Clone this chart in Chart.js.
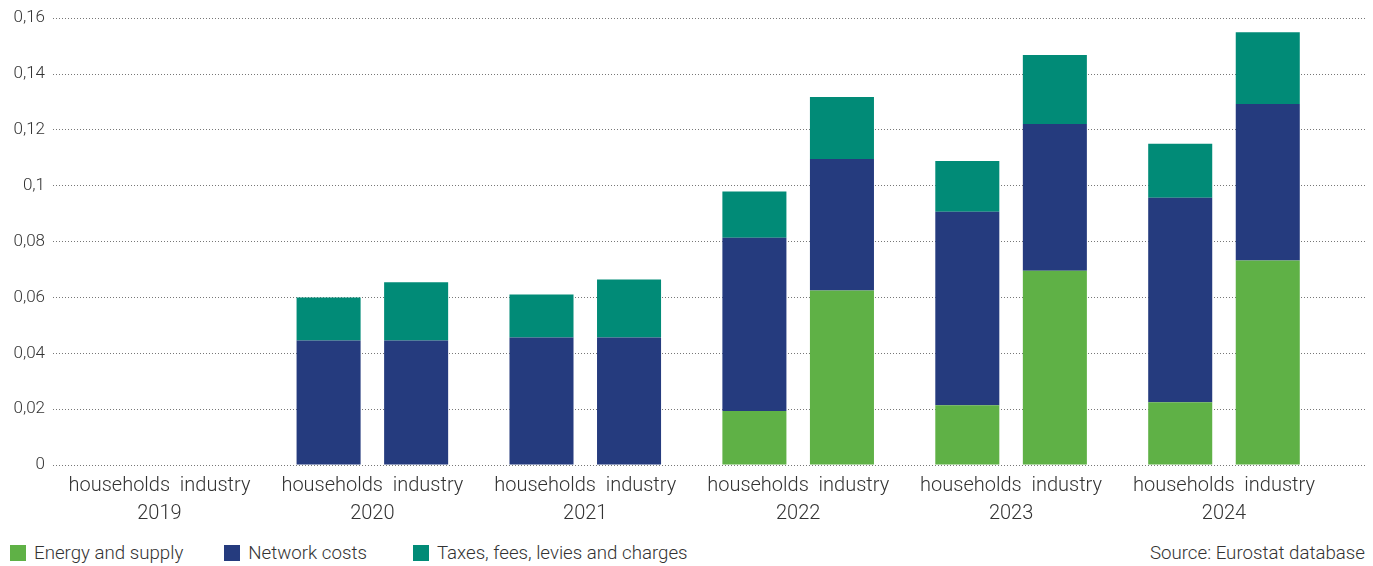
<!DOCTYPE html>
<html>
<head>
<meta charset="utf-8">
<script src="https://cdn.jsdelivr.net/npm/chart.js@4/dist/chart.umd.min.js"></script>
<style>
  html, body { margin: 0; padding: 0; background: #fff; }
  body { width: 1373px; height: 566px; position: relative; overflow: hidden; font-family: Roboto, "Noto Sans", sans-serif; font-weight: 300; color: #333; }
  #wrap { position: absolute; left: 0; top: 0; width: 1373px; height: 530px; }
  #legend { position: absolute; left: 10px; top: 543px; height: 20px; display: flex; align-items: center; font-size: 18.7px; }
  .item { display: flex; align-items: center; }
  .box { width: 16px; height: 16px; margin-right: 8px; }
  #source { position: absolute; right: 8px; top: 542px; font-size: 18.7px; line-height: 22px; }
</style>
</head>
<body>
<div id="wrap"><canvas id="c"></canvas></div>
<div id="legend"></div>
<div id="source">Source: Eurostat database</div>
<script>
const years = [2019, 2020, 2021, 2022, 2023, 2024];
const subCategories = ['households', 'industry'];
const seriesNames = ['Energy and supply', 'Network costs', 'Taxes, fees, levies and charges'];
const seriesColors = ['#5fb146', '#253b7e', '#018b77'];

const energyHouseholds  = [null, null,   null,   0.0193, 0.0214, 0.0225];
const networkHouseholds = [null, 0.0446, 0.0457, 0.0621, 0.0693, 0.0732];
const taxesHouseholds   = [null, 0.0154, 0.0154, 0.0165, 0.0182, 0.0193];
const energyIndustry    = [null, null,   null,   0.0625, 0.0696, 0.0732];
const networkIndustry   = [null, 0.0446, 0.0457, 0.0471, 0.0525, 0.0561];
const taxesIndustry     = [null, 0.0208, 0.0207, 0.0222, 0.0247, 0.0257];

const yTicks = [0, 0.02, 0.04, 0.06, 0.08, 0.1, 0.12, 0.14, 0.16];

const toPoints = arr => years.map((yr, i) => ({ x: yr, y: arr[i] }));

const groups = {
  households: [energyHouseholds, networkHouseholds, taxesHouseholds],
  industry: [energyIndustry, networkIndustry, taxesIndustry]
};

const datasets = [];
subCategories.forEach(sub => {
  groups[sub].forEach((arr, k) => {
    datasets.push({
      label: seriesNames[k],
      stack: sub,
      data: toPoints(arr),
      backgroundColor: seriesColors[k],
      borderWidth: 0,
      categoryPercentage: 0.8224,
      barPercentage: 0.7314
    });
  });
});

const FONT = 'Roboto, "Noto Sans", sans-serif';

new Chart(document.getElementById('c'), {
  type: 'bar',
  data: { datasets },
  options: {
    responsive: true,
    maintainAspectRatio: false,
    animation: false,
    layout: { padding: { top: 17, right: 7, left: 0, bottom: 0 } },
    plugins: { legend: { display: false }, tooltip: { enabled: false } },
    scales: {
      x: {
        type: 'linear',
        offset: false,
        min: 2018.5,
        max: 2024.667,
        grid: { display: false },
        border: { display: false },
        afterBuildTicks: s => { s.ticks = years.map(v => ({ value: v })); },
        afterFit: s => { s.height = 65; },
        ticks: {
          autoSkip: false,
          maxRotation: 0,
          padding: -1,
          color: '#333',
          font: { family: FONT, size: 20, weight: '300', lineHeight: 1.4 },
          callback: v => [subCategories.join('  '), String(v)]
        }
      },
      y: {
        stacked: true,
        min: 0,
        max: 0.16,
        afterBuildTicks: s => { s.ticks = yTicks.map(v => ({ value: v })); },
        afterFit: s => { s.width = 53; },
        grid: { color: '#777', lineWidth: 1, drawTicks: false },
        border: { display: false, dash: [1, 2] },
        ticks: {
          padding: 8,
          color: '#333',
          font: { family: FONT, size: 17, weight: '300' },
          callback: v => String(Number(v.toFixed(2))).replace('.', ',')
        }
      }
    }
  }
});

const legend = document.getElementById('legend');
const gaps = [0, 41, 46];
seriesNames.forEach((name, i) => {
  const it = document.createElement('div');
  it.className = 'item';
  it.style.marginLeft = gaps[i] + 'px';
  const b = document.createElement('div');
  b.className = 'box';
  b.style.background = seriesColors[i];
  const t = document.createElement('span');
  t.textContent = name;
  it.appendChild(b); it.appendChild(t);
  legend.appendChild(it);
});
</script>
</body>
</html>
